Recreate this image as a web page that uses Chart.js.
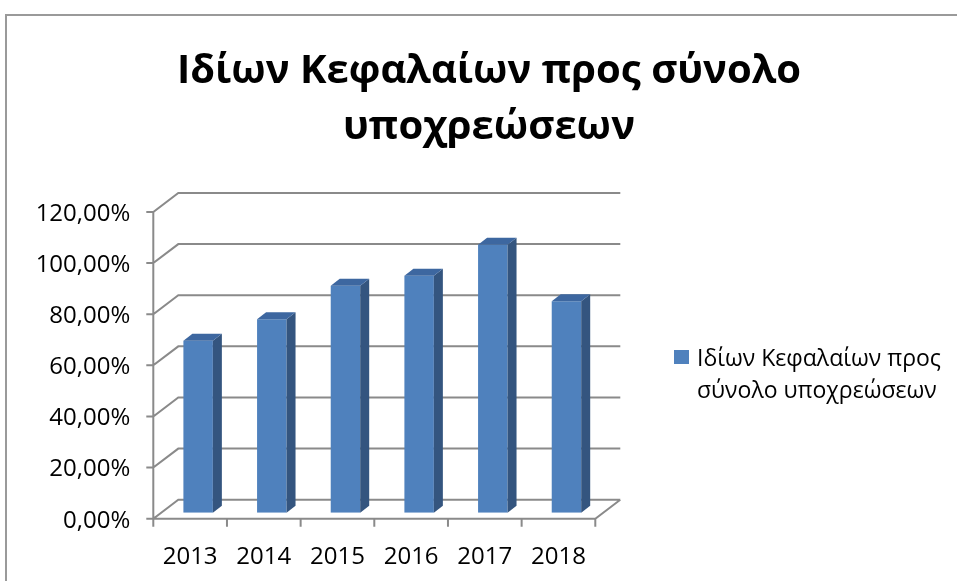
<!DOCTYPE html>
<html>
<head>
<meta charset="utf-8">
<script src="https://cdn.jsdelivr.net/npm/chart.js@4.4.1/dist/chart.umd.min.js"></script>
<style>
  html, body { margin: 0; padding: 0; background: #fff; overflow: hidden; }
  .frame { position: absolute; left: 5px; top: 14px; width: 1000px; height: 1000px; border: 2px solid #9a9a9a; }
  .wrap { position: absolute; left: 0; top: 0; width: 957px; height: 581px; }
</style>
</head>
<body>
<div class="frame"></div>
<div class="wrap"><canvas id="chart" width="957" height="581"></canvas></div>
<script>
const years = ["2013", "2014", "2015", "2016", "2017", "2018"];
const ratio = [67.3, 75.7, 88.8, 92.7, 104.8, 82.7];
const titleLines = ["Ιδίων Κεφαλαίων προς σύνολο", "υποχρεώσεων"];
const legendLines = ["Ιδίων Κεφαλαίων προς", "σύνολο υποχρεώσεων"];

const FONT = "'Open Sans', sans-serif";
const GRID = "#8a8a8a";
const FRONT = { x: -8, y: 6 };    // bar plane -> front plane
const DEPTH = { x: 25, y: -19 };  // front plane -> back wall
const BAR_D = { x: 9, y: -7 };    // bar thickness

const pct = v => v.toFixed(2).replace(".", ",") + "%";

// walls, floor and ticks of the fake 3d box
const box3d = {
  id: "box3d",
  beforeDatasetsDraw(chart){
    const { ctx, chartArea: a, scales: { x, y } } = chart;
    const fl = a.left + FRONT.x, fr = a.right + FRONT.x;
    ctx.save();
    ctx.strokeStyle = GRID;
    ctx.lineWidth = 2;
    ctx.beginPath();
    y.ticks.forEach(t => {
      const fy = y.getPixelForValue(t.value) + FRONT.y;
      ctx.moveTo(fl - 7, fy); ctx.lineTo(fl, fy);
      ctx.lineTo(fl + DEPTH.x, fy + DEPTH.y);
      ctx.lineTo(fr + DEPTH.x, fy + DEPTH.y);
    });
    const top = y.getPixelForValue(y.max) + FRONT.y;
    const bot = y.getPixelForValue(0) + FRONT.y;
    ctx.moveTo(fl, top); ctx.lineTo(fl, bot);
    ctx.lineTo(fr, bot); ctx.lineTo(fr + DEPTH.x, bot + DEPTH.y);
    const step = (a.right - a.left) / years.length;
    for (let i = 0; i <= years.length; i++){
      const tx = a.left + i * step + FRONT.x;
      ctx.moveTo(tx, bot); ctx.lineTo(tx, bot + 8);
    }
    ctx.stroke();
    ctx.restore();
  },
  afterDatasetsDraw(chart){
    const { ctx } = chart;
    ctx.save();
    chart.getDatasetMeta(0).data.forEach(bar => {
      const l = bar.x - bar.width / 2, r = bar.x + bar.width / 2;
      ctx.fillStyle = "#34557f";
      ctx.beginPath();
      ctx.moveTo(r, bar.y); ctx.lineTo(r + BAR_D.x, bar.y + BAR_D.y);
      ctx.lineTo(r + BAR_D.x, bar.base + BAR_D.y); ctx.lineTo(r, bar.base);
      ctx.closePath(); ctx.fill();
      ctx.fillStyle = "#3d67a0";
      ctx.beginPath();
      ctx.moveTo(l, bar.y); ctx.lineTo(l + BAR_D.x, bar.y + BAR_D.y);
      ctx.lineTo(r + BAR_D.x, bar.y + BAR_D.y); ctx.lineTo(r, bar.y);
      ctx.closePath(); ctx.fill();
    });
    ctx.restore();
  },
  afterDraw(chart){
    const { ctx } = chart;
    ctx.save();
    ctx.fillStyle = "#4F81BD";
    ctx.fillRect(674, 350, 15, 14);
    ctx.fillStyle = "#000";
    ctx.font = "23px " + FONT;
    ctx.textBaseline = "alphabetic";
    ctx.fillText(legendLines[0], 697, 366);
    ctx.fillText(legendLines[1], 697, 398);
    ctx.restore();
  }
};

new Chart(document.getElementById("chart"), {
  type: "bar",
  data: {
    labels: years,
    datasets: [{
      label: legendLines.join(" "),
      data: ratio,
      backgroundColor: "#4F81BD",
      barPercentage: 0.4,
      categoryPercentage: 1
    }]
  },
  options: {
    responsive: false,
    animation: false,
    layout: { padding: { left: 21, right: 0, top: 0, bottom: 0 } },
    plugins: {
      legend: { display: false },
      tooltip: { enabled: false },
      title: {
        display: true,
        text: titleLines,
        color: "#000",
        font: { family: FONT, size: 40, weight: "bold", lineHeight: "56px" },
        padding: { top: 44, bottom: 50 }
      }
    },
    scales: {
      x: {
        grid: { display: false, drawTicks: false },
        border: { display: false },
        ticks: { color: "#000", font: { family: FONT, size: 24 }, padding: 30, labelOffset: FRONT.x },
        afterFit: s => { s.height = 68.3; }
      },
      y: {
        min: 0, max: 120,
        grid: { display: false, drawTicks: false },
        border: { display: false },
        ticks: { stepSize: 20, color: "#000", font: { family: FONT, size: 24 }, padding: 31, labelOffset: 8, callback: v => pct(v) },
        afterFit: s => { s.width = 140.3; }
      },
      side: {
        type: "linear", position: "right",
        grid: { display: false, drawTicks: false },
        border: { display: false },
        ticks: { display: false },
        afterFit: s => { s.width = 353.7; }
      }
    }
  },
  plugins: [box3d]
});
</script>
</body>
</html>
